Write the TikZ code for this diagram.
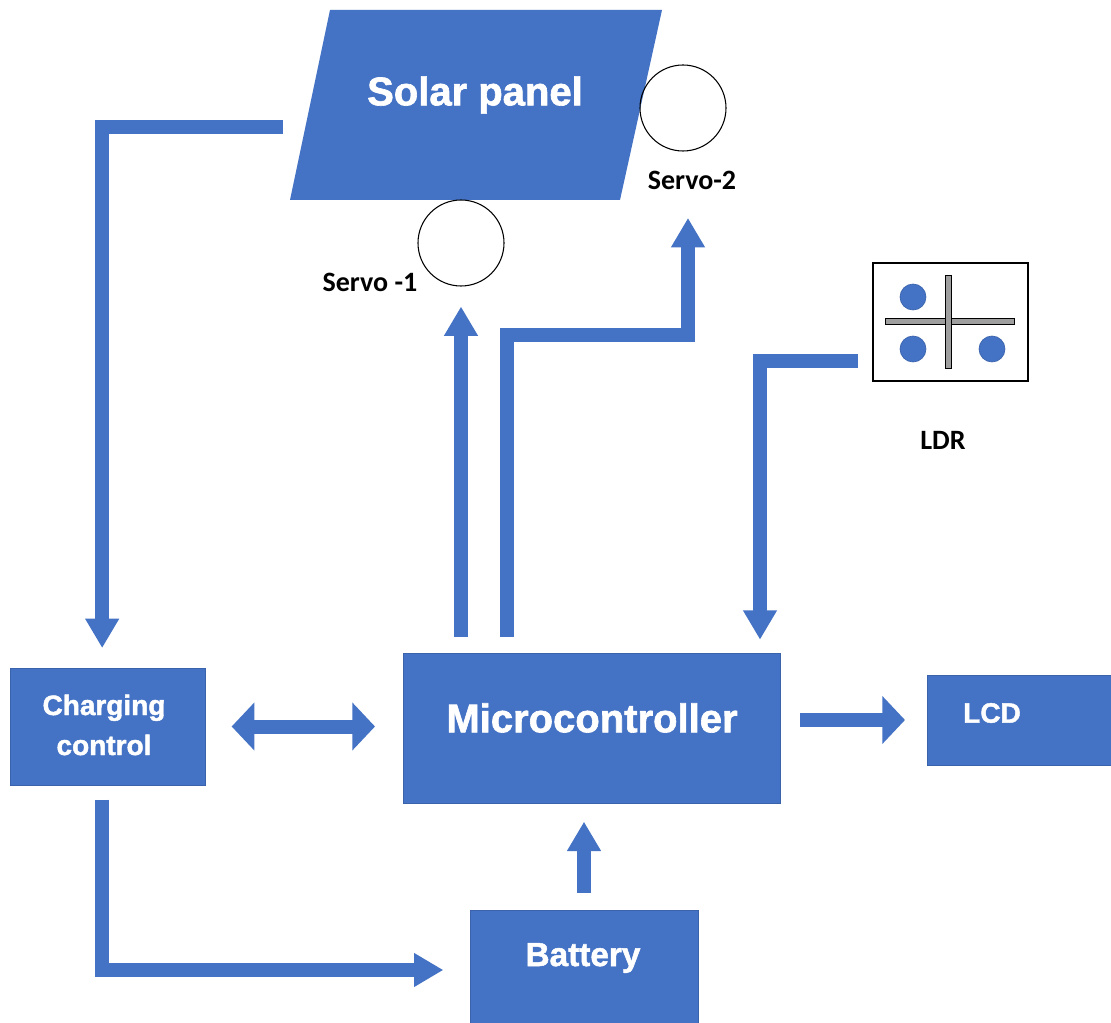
\documentclass[tikz,border=0pt]{standalone}
\usepackage{fontspec}
\setmainfont{Liberation Sans}
\newfontfamily\heavyfont{Liberation Sans}[BoldFeatures={FakeBold=1.6}]
\newfontfamily\servofont{Carlito}
\usetikzlibrary{calc,arrows.meta}
\definecolor{panelblue}{HTML}{4472C4}
\definecolor{edgeblue}{HTML}{3A63AC}

\tikzset{
 block/.style={fill=panelblue, draw=edgeblue, line width=0.6pt, inner sep=0pt, outer sep=0pt},
 blocktext/.style={text=white, align=center, inner sep=0pt},
 flow/.style={draw=panelblue, line width=10.5pt, >={Triangle[length=22pt,width=24pt]}, ->},
 flowwide/.style={draw=panelblue, line width=10.5pt, >={Triangle[length=17pt,width=35pt]}, ->},
 servo/.style={circle, draw=black, line width=0.8pt, minimum size=64.5pt, inner sep=0pt},
 tag/.style={font=\servofont\bfseries\fontsize{21}{24}\selectfont, inner sep=0pt}
}

\begin{document}
\begin{tikzpicture}[x=0.75pt,y=-0.75pt]

\path[use as bounding box, fill=white] (0,0) rectangle (1111,1023);

% solar panel and servos
\fill[panelblue] (330,10) -- (662,10) -- (620,200) -- (290,200) -- cycle;
\node[blocktext, font=\heavyfont\bfseries\fontsize{30}{34}\selectfont] (solar) at (475,95) {Solar panel};

\node[servo] (servoA) at (461,243) {};
\node[tag] (servoAlab) at (370,282) {Servo -1};
\node[servo] (servoB) at (683,108) {};
\node[tag] (servoBlab) at (692,180) {Servo-2};

% LDR
\node[draw=black, line width=0.9pt, minimum width=116.25pt, minimum height=88.5pt, inner sep=0pt] (ldr) at (950.5,322) {};
\draw[fill=gray!75, draw=black, line width=0.6pt] (885,318) rectangle (1014,324);
\draw[fill=gray!75, draw=black, line width=0.6pt] (945,275) rectangle (951,368);
\filldraw[fill=panelblue, draw=edgeblue, line width=0.5pt] (913,297) circle (9.75pt);
\filldraw[fill=panelblue, draw=edgeblue, line width=0.5pt] (913,349) circle (9.75pt);
\filldraw[fill=panelblue, draw=edgeblue, line width=0.5pt] (992,349) circle (9.75pt);
\node[tag] (ldrlab) at (943,440) {LDR};

% blocks
\node[block, minimum width=146.25pt, minimum height=87.75pt] (charging) at (107.5,726.5) {};
\node[blocktext, font=\heavyfont\bfseries\fontsize{21}{30}\selectfont] (chargingtext) at (104,725) {Charging\\control};

\node[block, minimum width=282.75pt, minimum height=112.5pt] (micro) at (591.5,728) {};
\node[blocktext, font=\heavyfont\bfseries\fontsize{30}{34}\selectfont] (microtext) at (592,718) {Microcontroller};

\node[block, minimum width=141pt, minimum height=67.5pt] (lcd) at (1021,720) {};
\node[blocktext, font=\heavyfont\bfseries\fontsize{21}{24}\selectfont] (lcdtext) at (992,713) {LCD};

\node[block, minimum width=171pt, minimum height=90pt] (battery) at (584,970) {};
\node[blocktext, font=\heavyfont\bfseries\fontsize{25}{28}\selectfont] (batterytext) at (583,958) {Battery};

% connectors
\coordinate (panelout) at (283,127);
\coordinate (turnB) at (688,335);
\coordinate (tipB) at (688,218);

\draw[flow, shorten >=15pt] (panelout) -| ([xshift=-4pt]charging.north);
\draw[flow, shorten <=11pt, shorten >=20pt] ([xshift=-4pt]charging.south) |- (battery.west);
\draw[flowwide, <->, shorten <=20pt, shorten >=21pt] (charging.east) -- (charging.east -| micro.west);
\draw[flowwide, shorten <=15pt, shorten >=16.5pt] (micro.east |- lcd.west) -- (lcd.west);
\draw[flow, shorten <=13pt, shorten >=14pt] (battery.north) -- (battery.north |- micro.south);
\draw[flow, shorten <=12pt, shorten >=15pt] (servoA.south |- micro.north) -- (servoA.south);
\draw[flow, shorten <=12pt] ($(micro.north)+(-84.5,0)$) |- (turnB) -- (tipB);
\draw[flow, shorten <=11pt, shorten >=10pt] ($(ldr.west)+(0,39)$) -| ($(micro.north)+(168.5,0)$);

\end{tikzpicture}
\end{document}
